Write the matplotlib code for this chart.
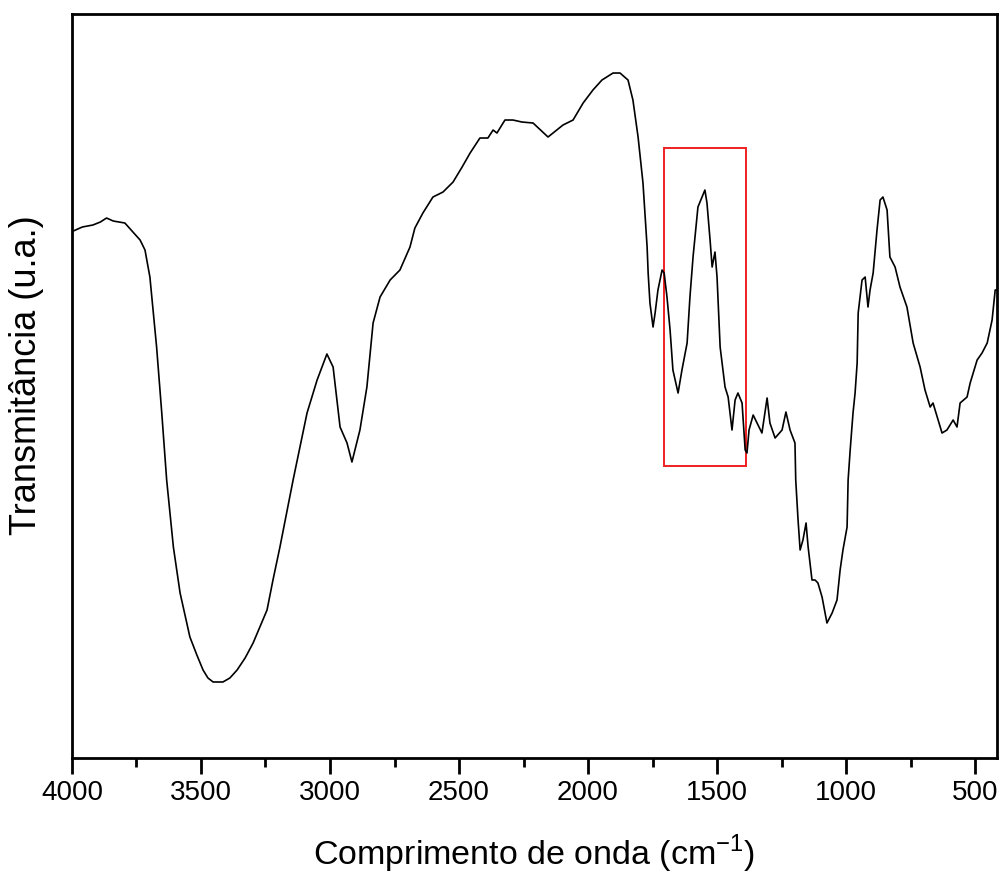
import numpy as np
import matplotlib
matplotlib.use("Agg")
import matplotlib.pyplot as plt
from matplotlib.patches import Rectangle
from matplotlib.ticker import MultipleLocator

plt.rcParams['font.family'] = ['Liberation Sans', 'DejaVu Sans']

# espectro FTIR (numero de onda, transmitancia u.a.)
wavenumber = [4000, 3995, 3960, 3919, 3890, 3866, 3840, 3795, 3760, 3736,
              3717, 3698, 3672, 3652, 3633, 3607, 3581, 3543, 3516, 3492,
              3473, 3453, 3415, 3388, 3360, 3329, 3298, 3244, 3221, 3194,
              3143, 3089, 3050, 3012, 2988,
              2961, 2934, 2915, 2884, 2857, 2833, 2806, 2767, 2729, 2690,
              2671, 2640, 2601, 2562, 2523, 2488, 2457, 2419, 2388, 2368,
              2353, 2322, 2291, 2256, 2213, 2155, 2097, 2058, 2019, 1981,
              1946, 1903, 1876, 1845, 1826, 1806, 1787, 1775,
              1771, 1767, 1760, 1748,
              1740, 1729, 1713, 1705, 1694, 1682, 1671, 1651, 1636, 1616,
              1605, 1593, 1574, 1558, 1547, 1539, 1527, 1519, 1508, 1500,
              1488, 1469, 1457, 1442, 1430, 1419, 1403, 1391, 1384, 1376,
              1360, 1345, 1326, 1306, 1295, 1275, 1248, 1233, 1217, 1198,
              1195, 1186, 1178, 1167, 1155, 1147, 1132, 1120, 1109, 1093,
              1074, 1054, 1035, 1023, 1012, 996, 992, 984, 973, 965,
              957, 953, 938, 926, 915, 907, 895, 880, 868, 857,
              841, 830, 810, 791, 764, 740, 713, 694, 674, 663,
              643, 628, 609, 585, 570, 558, 531, 519, 492, 473,
              453, 434, 422, 415]
transmittance = [526, 527, 531, 533, 536, 540, 537, 535, 525, 518,
                 508, 481, 411, 345, 278, 211, 165, 121, 103, 88,
                 80, 76, 76, 80, 88, 100, 115, 148, 178, 211,
                 278, 345, 378, 404, 391,
                 331, 315, 296, 328, 371, 435, 461, 478, 488, 511,
                 530, 545, 561, 566, 576, 591, 605, 620, 620, 628,
                 625, 638, 638, 636, 635, 621, 633, 638, 655, 668,
                 678, 685, 685, 678, 658, 621, 575, 528,
                 511, 485, 455, 431,
                 445, 468, 488, 485, 461, 428, 388, 365, 388, 415,
                 461, 501, 551, 561, 568, 555, 518, 491, 506, 481,
                 411, 371, 361, 328, 358, 365, 355, 308, 305, 328,
                 343, 335, 325, 360, 335, 320, 328, 346, 328, 315,
                 278, 238, 208, 218, 235, 211, 178, 178, 175, 161,
                 135, 145, 158, 188, 208, 231, 278, 308, 345, 365,
                 395, 445, 478, 481, 451, 468, 485, 528, 558, 561,
                 548, 501, 491, 471, 451, 415, 391, 368, 351, 355,
                 338, 325, 328, 338, 331, 355, 361, 375, 398, 405,
                 415, 438, 468, 468]

# regiao destacada
box_x = [1705, 1388]
box_y = [292, 610]

fig = plt.figure(figsize=(10.01, 8.82), dpi=100)
ax = fig.add_axes([0.0719, 0.1406, 0.9241, 0.8435])

ax.plot(wavenumber, transmittance, color='black', lw=1.2)
ax.add_patch(Rectangle((box_x[1], box_y[0]), box_x[0] - box_x[1], box_y[1] - box_y[0],
                       fill=False, edgecolor='#ee2020', lw=1.4))

ax.set_xlim(4000, 415)
ax.set_ylim(0, 744)
ax.xaxis.set_major_locator(MultipleLocator(500))
ax.xaxis.set_minor_locator(MultipleLocator(250))
ax.tick_params(axis='x', which='major', length=11.5, width=2, labelsize=20, pad=4)
ax.tick_params(axis='x', which='minor', length=6.5, width=2)
ax.set_yticks([])
for s in ax.spines.values():
    s.set_linewidth(2)

ax.set_xlabel('Comprimento de onda (cm$^{\\mathregular{-1}}$)', fontsize=24.5, labelpad=20)
ax.set_ylabel('Transmitância (u.a.)', fontsize=26)
ax.yaxis.set_label_coords(-0.030, 0.514)

fig.savefig('out.png', dpi=100)
